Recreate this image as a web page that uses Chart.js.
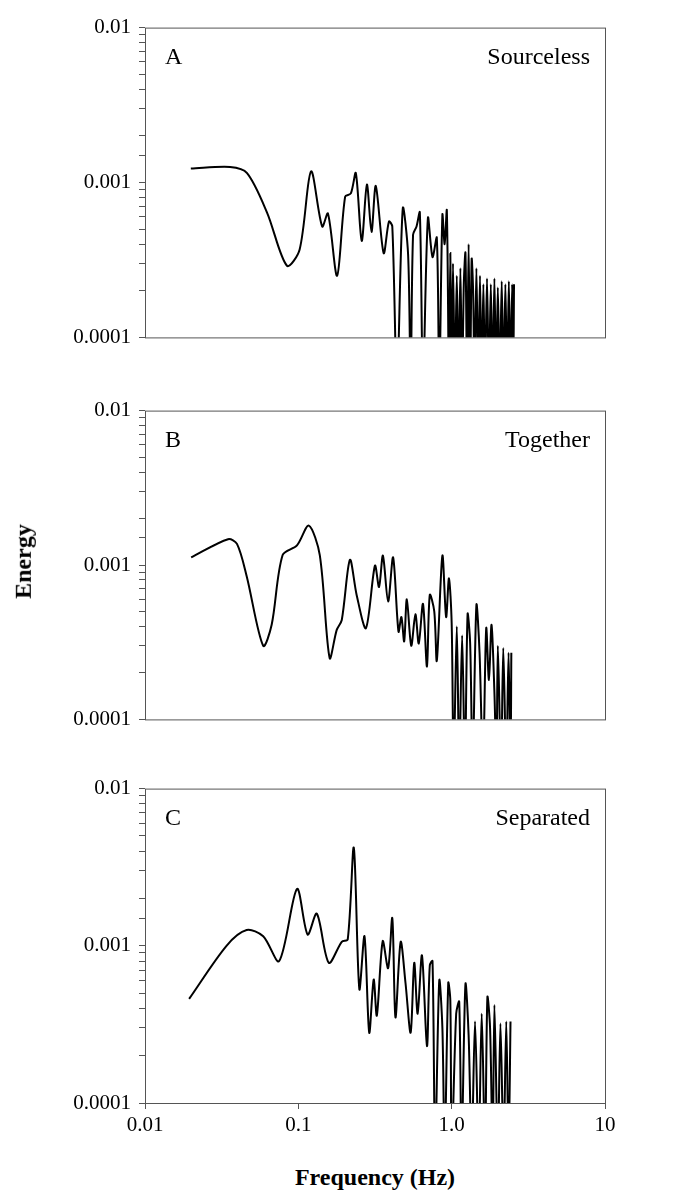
<!DOCTYPE html>
<html><head><meta charset="utf-8">
<script src="https://cdn.jsdelivr.net/npm/chart.js@4/dist/chart.umd.min.js"></script>
<style>
body{margin:0;background:#fff;width:678px;height:1201px;position:relative;overflow:hidden;font-family:"Liberation Serif",serif}
.p{position:absolute;left:0;width:678px}
#xt{position:absolute;top:1164px;left:145px;width:460px;text-align:center;font-weight:bold;font-size:24px}
#yt{position:absolute;left:-14px;top:548px;transform:rotate(-90deg);font-weight:bold;font-size:24px}
</style></head><body>
<div class="p" style="top:7px;height:351px"><canvas id="cA"></canvas></div>
<div class="p" style="top:390px;height:350px"><canvas id="cB"></canvas></div>
<div class="p" style="top:768px;height:382px"><canvas id="cC"></canvas></div>
<div id="xt">Frequency (Hz)</div>
<div id="yt">Energy</div>
<script>
// Panel A - Sourceless
const freqA = [0.0199,0.0359,0.0463,0.0625,0.0843,0.102,0.121,0.143,0.156,0.179,0.202,0.22,0.237,0.259,0.28,0.30,0.32,0.36,0.39,0.41,0.44,0.48,0.52,0.54,0.56,0.59,0.62,0.65,0.70,0.75,0.80,0.83,0.87,0.90,0.93,0.96,
  0.98,1.0,1.02,1.05,1.08,1.11,1.14,1.17,1.2,1.23,1.26,1.29,1.32,1.35,1.38,1.41,1.45,1.49,1.53,1.57,1.61,1.65,1.7,1.75,1.8,1.85,1.9,1.95,2.0,2.06,2.12,2.18,2.24,2.3,2.36,2.42,2.48,2.52,2.55];
const energyA = [0.00123,0.00126,0.00115,0.00064,0.00029,0.00037,0.00118,0.00052,0.00063,0.00025,0.00081,0.00085,0.00115,0.00042,0.00097,0.00048,0.00095,0.00035,0.00056,0.00052,0.00005,0.00068,0.00034,0.00005,0.00046,0.00052,0.00064,0.00005,0.00059,0.00033,0.00044,0.00005,0.00062,0.0004,0.00066,0.00005,
  0.00035,0.00005,0.0003,0.00005,0.00025,0.00005,0.00028,0.00005,0.00022,0.00035,0.00005,0.0004,0.00005,0.00032,0.0002,0.00005,0.00028,0.00005,0.00025,0.00005,0.00022,0.00005,0.00024,0.00005,0.00022,0.00005,0.00024,0.00005,0.00021,0.00005,0.00023,0.00005,0.00022,0.00005,0.00023,0.00005,0.00022,0.00005,0.00022];

// Panel B - Together
const freqB = [0.02,0.0348,0.0398,0.046,0.059,0.067,0.079,0.098,0.117,0.138,0.16,0.178,0.192,0.217,0.24,0.276,0.316,0.336,0.356,0.385,0.415,0.45,0.47,0.49,0.51,0.545,0.58,0.61,0.65,0.69,0.72,0.77,0.8,0.87,0.92,0.96,1.0,
  1.03,1.08,1.12,1.17,1.22,1.27,1.32,1.37,1.45,1.52,1.6,1.68,1.75,1.82,1.9,1.96,2.0,2.1,2.17,2.27,2.35,2.42,2.45];
const energyB = [0.00112,0.00147,0.00137,0.00085,0.0003,0.00041,0.00116,0.00134,0.0018,0.00116,0.00025,0.00038,0.00044,0.00108,0.00064,0.00039,0.00099,0.00072,0.00115,0.00058,0.00112,0.00037,0.00046,0.00032,0.0006,0.0003,0.00048,0.00031,0.00056,0.00022,0.00064,0.0005,0.00024,0.00115,0.00046,0.00082,0.00042,
  0.00005,0.0004,0.00005,0.00035,0.00005,0.00048,0.00031,0.00005,0.00055,0.00027,0.00005,0.00039,0.00018,0.00041,0.00015,0.00005,0.0003,0.00005,0.00029,0.00005,0.00027,0.00005,0.00027];

// Panel C - Separated
const freqC = [0.0194,0.034,0.046,0.059,0.075,0.098,0.115,0.132,0.158,0.192,0.21,0.23,0.25,0.27,0.29,0.31,0.325,0.355,0.385,0.41,0.43,0.465,0.5,0.54,0.57,0.6,0.64,0.69,0.72,0.75,0.78,0.83,0.87,0.9,0.95,0.98,1.0,
  1.07,1.12,1.16,1.23,1.29,1.35,1.42,1.5,1.57,1.65,1.71,1.78,1.85,1.9,2.0,2.08,2.18,2.27,2.35,2.42];
const energyC = [0.00046,0.001,0.00126,0.00115,0.0008,0.0023,0.00118,0.0016,0.00078,0.00106,0.0011,0.0042,0.00053,0.00115,0.00028,0.00061,0.00036,0.00107,0.00072,0.0015,0.00035,0.00106,0.00058,0.00028,0.00078,0.00037,0.00087,0.00023,0.00075,0.0008,0.00005,0.0006,0.0003,0.00005,0.00058,0.00045,0.00005,
  0.00037,0.00044,0.00005,0.00057,0.00027,0.00005,0.00033,0.00005,0.00037,0.00005,0.00047,0.0003,0.00005,0.00042,0.00005,0.00032,0.00005,0.00033,0.00005,0.00033];

const yTicks = [0.0001,0.001,0.01];
const xTicks = [0.01,0.1,1,10];
const xLabels = {0.01:"0.01",0.1:"0.1",1:"1.0",10:"10"};

const FONT = {family:"'Liberation Serif', serif", size:21};

const deco = {
  id:"deco",
  afterDraw(c){
    const a = c.chartArea, ctx = c.ctx, o = c.options.plugins.deco;
    ctx.save();
    ctx.strokeStyle = "#555"; ctx.lineWidth = 1;
    ctx.strokeRect(a.left+0.5, a.top+0.5, a.right-a.left, a.bottom-a.top);
    ctx.fillStyle = "#000"; ctx.font = "24px 'Liberation Serif', serif";
    ctx.textBaseline = "middle";
    ctx.textAlign = "left"; ctx.fillText(o.letter, a.left+20, a.top+30);
    ctx.textAlign = "right"; ctx.fillText(o.name, a.right-15, a.top+30);
    ctx.restore();
  }
};

function makePanel(id, fx, ey, letter, name, showX, padTop, padBottom){
  const pts = fx.map((f,i)=>({x:f, y:ey[i]}));
  return new Chart(document.getElementById(id), {
    type:"line",
    data:{datasets:[{data:pts, borderColor:"#000", borderWidth:2, pointRadius:0, tension:0.3, fill:false}]},
    options:{
      responsive:true, maintainAspectRatio:false, animation:false,
      layout:{padding:{left:45, right:73, top:padTop, bottom:padBottom}},
      plugins:{legend:{display:false}, tooltip:{enabled:false}, deco:{letter, name}},
      scales:{
        x:{type:"logarithmic", min:0.01, max:10, border:{display:false},
          grid:{display:showX, drawOnChartArea:false, tickLength:6, color:"#555"},
          afterBuildTicks:s=>{s.ticks = xTicks.map(v=>({value:v}));},
          afterFit:s=>{s.height = showX ? 42 : 0;},
          ticks:{display:showX, color:"#000", font:FONT, padding:4, maxRotation:0, callback:v=>xLabels[v]}},
        y:{type:"logarithmic", min:0.0001, max:0.01, border:{display:false},
          grid:{drawOnChartArea:false, tickLength:6, color:"#555"},
          afterFit:s=>{s.width = 100;},
          ticks:{color:"#000", font:FONT, padding:8, autoSkip:false,
            callback:v=>yTicks.includes(v) ? String(v) : ""}}
      }
    },
    plugins:[deco]
  });
}

makePanel("cA", freqA, energyA, "A", "Sourceless", false, 10, 5);
makePanel("cB", freqB, energyB, "B", "Together", false, 10, 5);
makePanel("cC", freqC, energyC, "C", "Separated", true, 10, 5);
</script>
</body></html>
